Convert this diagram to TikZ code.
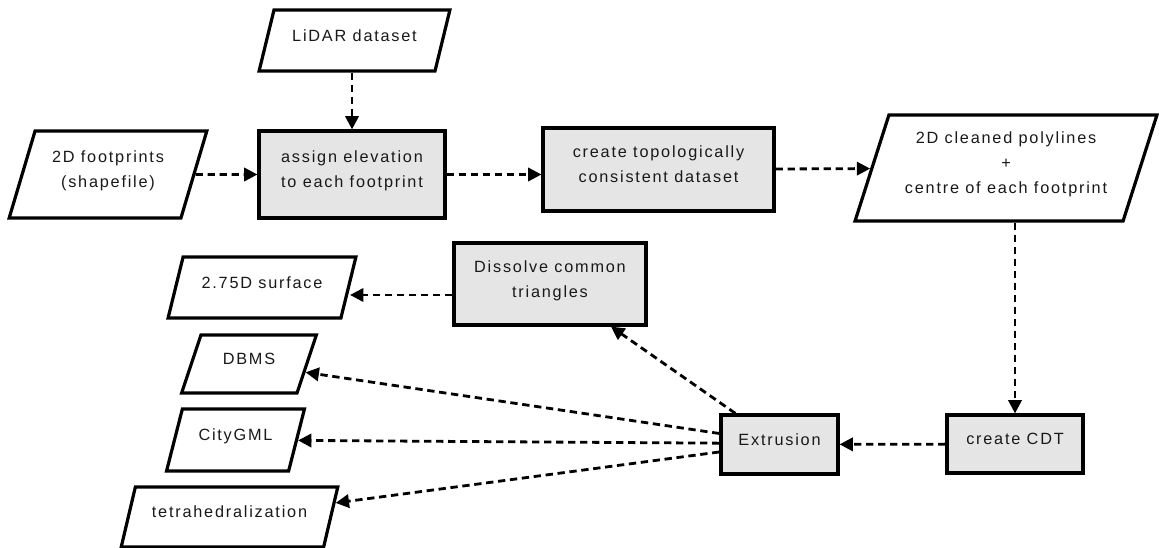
\documentclass[tikz,border=0pt]{standalone}
\usepackage{fontspec}
\setmainfont{Liberation Sans}[LetterSpace=11]
\usepackage{tikz}
\usetikzlibrary{shapes.geometric, arrows.meta}
\newcommand{\boxtext}[1]{\raisebox{3.2pt}[\height][\depth]{\begin{tabular}{@{}c@{}}#1\end{tabular}}}

\begin{document}
\begin{tikzpicture}[x=0.75pt, y=-0.75pt, every node/.style={font=\fontsize{12.2pt}{18.75pt}\selectfont, text=black!90}, proc/.style={rectangle, draw, fill=black!10, line width=2.4pt}, io/.style={trapezium, trapezium left angle=70, trapezium right angle=110, trapezium stretches=true, draw, fill=white, line width=2.4pt}, d/.style={-{Triangle[length=10pt, width=10pt]}, line width=2.1pt, dash pattern=on 5.5pt off 3.5pt}]
            \useasboundingbox (0,0) rectangle (1159,548);
            % nodes
            \node[io, minimum width=143.25pt, minimum height=45.75pt] (lidar) at (354.5,40.5) {\boxtext{LiDAR dataset}};
            \node[io, minimum width=148.5pt, minimum height=65.25pt] (foot) at (108,174.5) {\boxtext{2D footprints\\(shapefile)}};
            \node[proc, minimum width=139.5pt, minimum height=65.25pt] (assign) at (352,174.5) {\boxtext{assign elevation\\to each footprint}};
            \node[proc, minimum width=173.25pt, minimum height=62.25pt] (topo) at (658.5,169.5) {\boxtext{create topologically\\consistent dataset}};
            \node[io, minimum width=226.5pt, minimum height=79.5pt] (poly) at (1006,168) {\boxtext{2D cleaned polylines\\+\\centre of each footprint}};
            \node[proc, minimum width=144pt, minimum height=61.5pt] (dissolve) at (550,284) {\boxtext{Dissolve common\\triangles}};
            \node[io, minimum width=141pt, minimum height=45.75pt] (surf) at (262,287.5) {\boxtext{2.75D surface}};
            \node[io, minimum width=101.25pt, minimum height=43.5pt] (dbms) at (249,364) {\boxtext{DBMS}};
            \node[io, minimum width=104.25pt, minimum height=46.5pt] (city) at (235.5,440) {\boxtext{CityGML}};
            \node[io, minimum width=162.75pt, minimum height=45pt] (tetra) at (229.5,517) {\boxtext{tetrahedralization}};
            \node[proc, minimum width=87.75pt, minimum height=44.25pt] (extr) at (779.5,444.5) {\boxtext{Extrusion}};
            \node[proc, minimum width=102pt, minimum height=43.5pt] (cdt) at (1015,444) {\boxtext{create CDT}};
            % edges
            \draw[d] (foot) -- (assign);
            \draw[d] (assign.north |- lidar.south) -- (assign.north);
            \draw[d] (assign.east) -- (assign.east -| topo.west);
            \draw[d] (topo) -- (poly);
            \draw[d] (cdt.north |- poly.south) -- (cdt.north);
            \draw[d] (cdt) -- (extr);
            \draw[d] ([xshift=12pt]extr.north west) -- (dissolve);
            \draw[d] ([yshift=-8.25pt]dissolve.west) -- ([yshift=-8.25pt]dissolve.west -| surf.east);
            \draw[d] ([yshift=8.25pt]extr.west) -- (dbms);
            \draw[d] ([yshift=1pt]extr.west) -- (city);
            \draw[d] ([yshift=-5.6pt]extr.west) -- (tetra);
        \end{tikzpicture}
\end{document}
